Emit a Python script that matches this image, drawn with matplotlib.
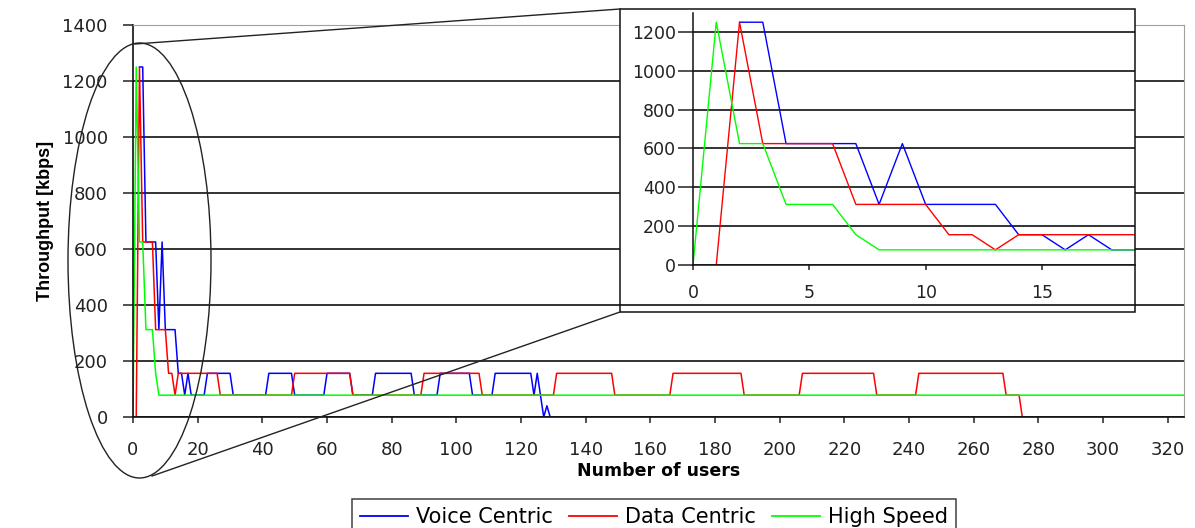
import matplotlib
matplotlib.use("Agg")
import matplotlib.pyplot as plt
from matplotlib.patches import Ellipse, Rectangle
from matplotlib.lines import Line2D
from matplotlib.transforms import Affine2D

# corner points (number of users, throughput in kbps);
# each curve is straight between its corner points
voice_users = [2, 3, 4, 7, 8, 9, 10, 13, 14, 15, 16, 17, 18, 22, 23, 30, 31,
               41, 42, 49, 50, 59, 60, 67, 68, 74, 75, 86, 87, 94, 95, 104,
               105, 111, 112, 123, 124, 125, 126, 127, 128, 129]
voice_tput = [1250, 1250, 625, 625, 312, 625, 312, 312, 156, 156, 78, 156, 78,
              78, 156, 156, 78, 78, 156, 156, 78, 78, 156, 156, 78, 78, 156,
              156, 78, 78, 156, 156, 78, 78, 156, 156, 78, 156, 78, 0, 40, 0]

data_users = [1, 2, 3, 6, 7, 10, 11, 12, 13, 14, 26, 27, 49, 50, 67, 68, 89,
              90, 107, 108, 130, 131, 148, 149, 166, 167, 188, 189, 206, 207,
              229, 230, 242, 243, 269, 270, 274, 275]
data_tput = [0, 1250, 625, 625, 312, 312, 156, 156, 78, 156, 156, 78, 78, 156,
             156, 78, 78, 156, 156, 78, 78, 156, 156, 78, 78, 156, 156, 78, 78,
             156, 156, 78, 78, 156, 156, 78, 78, 0]

speed_users = [0, 1, 2, 3, 4, 6, 7, 8, 325]
speed_tput = [0, 1250, 625, 625, 312, 312, 156, 78, 78]

series = [
    ("Voice Centric", voice_users, voice_tput, "#0000ff"),
    ("Data Centric", data_users, data_tput, "#ff0000"),
    ("High Speed", speed_users, speed_tput, "#00ff00"),
]

main_xticks = list(range(0, 321, 20))
main_yticks = list(range(0, 1401, 200))
inset_xticks = [0, 5, 10, 15]
inset_yticks = list(range(0, 1201, 200))

W, H = 1195, 528


def fig_rect(left, top, right, bottom):
    # pixel box (origin top-left) -> figure fraction rect
    return [left / W, 1 - bottom / H, (right - left) / W, (bottom - top) / H]


fig = plt.figure(figsize=(W / 100, H / 100), dpi=100)
px = Affine2D().scale(1 / W, -1 / H).translate(0, 1) + fig.transFigure

# ---- main chart
ax = fig.add_axes(fig_rect(133, 25, 1184, 417))
handles = []
for name, xs, ys, color in series:
    ln, = ax.plot(xs, ys, color=color, linewidth=1.1, label=name)
    handles.append(ln)

ax.set_xlim(0, 325)
ax.set_ylim(0, 1400)
ax.set_xticks(main_xticks)
ax.set_yticks(main_yticks)
ax.grid(axis="y", color="#111111", linewidth=1.2)
ax.set_axisbelow(True)
for side in ("top", "right"):
    ax.spines[side].set_color("#a0a0a0")
for side in ("left", "bottom"):
    ax.spines[side].set_color("#111111")
    ax.spines[side].set_linewidth(1.2)
ax.tick_params(axis="y", direction="out", length=7.2, width=1.1, pad=11,
               labelsize=13, colors="#222222")
ax.tick_params(axis="x", direction="out", length=4.3, width=1.1, pad=13,
               labelsize=13, colors="#222222")
ax.set_ylabel("Throughput [kbps]", family="Liberation Sans", fontweight="bold",
              fontsize=13, labelpad=6)
ax.set_xlabel("Number of users", fontweight="bold", fontsize=12.5, labelpad=2)

# ---- white backing + frame of the zoomed view
fig.add_artist(Rectangle((620, 9), 515, 291, transform=px, facecolor="white",
                         edgecolor="none", zorder=1.5))
fig.add_artist(Rectangle((620, 9), 515, 303, transform=px, facecolor="none",
                         edgecolor="#111111", linewidth=1.1, zorder=4))

# ---- inset
ins = fig.add_axes(fig_rect(693, 12.5, 1135, 265), zorder=3)
for name, xs, ys, color in series:
    ins.plot(xs, ys, color=color, linewidth=1.0)
ins.set_xlim(0, 19)
ins.set_ylim(0, 1300)
ins.set_xticks(inset_xticks)
ins.set_yticks(inset_yticks)
ins.grid(axis="y", color="#111111", linewidth=1.2)
ins.set_axisbelow(True)
ins.spines["top"].set_visible(False)
ins.spines["right"].set_visible(False)
for side in ("left", "bottom"):
    ins.spines[side].set_color("#111111")
    ins.spines[side].set_linewidth(1.1)
ins.tick_params(axis="y", direction="out", length=11, width=1.1, pad=1.5,
                labelsize=12.5, colors="#222222")
ins.tick_params(axis="x", direction="out", length=3.6, width=1.1, pad=10,
                labelsize=12.5, colors="#222222")

# ---- ellipse around the start of the curves and the two connector lines
fig.add_artist(Ellipse((139.5, 260.5), 143, 435, transform=px, fill=False,
                       edgecolor="#222222", linewidth=1.0, zorder=4))
fig.add_artist(Line2D([135, 620], [44, 9], transform=px, color="#222222",
                      linewidth=1.0, zorder=4))
fig.add_artist(Line2D([152, 620], [476, 312], transform=px, color="#222222",
                      linewidth=1.0, zorder=4))

# ---- legend along the bottom edge
leg = fig.legend(handles=handles, loc="center", ncol=3,
                 bbox_to_anchor=(654 / W, 1 - 517 / H), fontsize=15,
                 frameon=True, fancybox=False, edgecolor="#111111",
                 handlelength=2.3, handletextpad=0.4, columnspacing=0.75,
                 borderpad=0.4)
leg.get_frame().set_linewidth(1.1)
for ln in leg.get_lines():
    ln.set_linewidth(1.3)

fig.savefig("out.png", dpi=100)
